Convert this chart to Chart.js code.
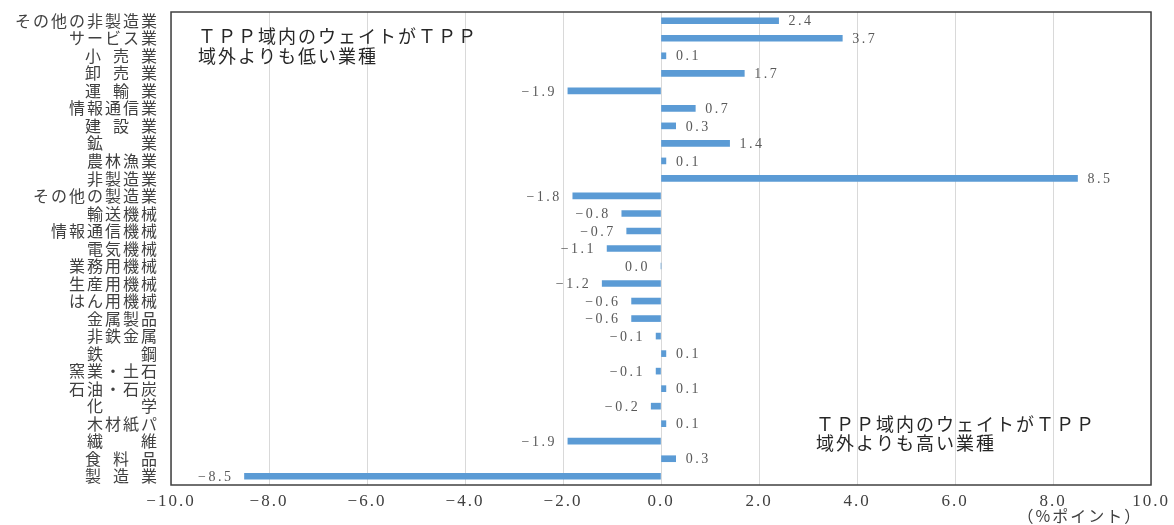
<!DOCTYPE html>
<html lang="ja">
<head>
<meta charset="utf-8">
<title>業種別ウェイト差</title>
<script src="https://cdn.jsdelivr.net/npm/chart.js@4.4.1/dist/chart.umd.min.js"></script>
<style>
  html, body { margin: 0; padding: 0; background: #ffffff; }
  canvas { display: block; }
</style>
</head>
<body>
<canvas id="chart" width="1174" height="525"></canvas>
<script>
// Industries, top to bottom
const categories = [
  'その他の非製造業', 'サービス業', '小\u2002売\u2002業', '卸\u2002売\u2002業', '運\u2002輸\u2002業',
  '情報通信業', '建\u2002設\u2002業', '鉱　　業', '農林漁業', '非製造業',
  'その他の製造業', '輸送機械', '情報通信機械', '電気機械', '業務用機械',
  '生産用機械', 'はん用機械', '金属製品', '非鉄金属', '鉄　　鋼',
  '窯業・土石', '石油・石炭', '化　　学', '木材紙パ', '繊　　維',
  '食\u2002料\u2002品', '製\u2002造\u2002業'
];

// Difference in weight, TPP members vs. non-members (% points)
const weightDiff = [
  2.4, 3.7, 0.1, 1.7, -1.9,
  0.7, 0.3, 1.4, 0.1, 8.5,
  -1.8, -0.8, -0.7, -1.1, 0.0,
  -1.2, -0.6, -0.6, -0.1, 0.1,
  -0.1, 0.1, -0.2, 0.1, -1.9,
  0.3, -8.5
];

const axisMin = -10;
const axisMax = 10;
const axisStep = 2;
const axisUnit = '（%ポイント）';

const noteLower = ['ＴＰＰ域内のウェイトがＴＰＰ', '域外よりも低い業種'];
const noteHigher = ['ＴＰＰ域内のウェイトがＴＰＰ', '域外よりも高い業種'];

const SERIF = "'Liberation Serif', 'DejaVu Serif', serif";
const JP = "'Noto Sans CJK JP', 'Noto Sans', sans-serif";

function fmt(v) {
  return v.toFixed(1).replace('-', '−');
}

// spacing between glyphs, like the wide Japanese-style text
const spacingPlugin = {
  id: 'spacing',
  beforeDraw(chart) {
    chart.ctx.letterSpacing = '2px';
  }
};

// dark frame around the plot area
const framePlugin = {
  id: 'frame',
  afterDraw(chart) {
    const { ctx, chartArea: a } = chart;
    ctx.save();
    ctx.strokeStyle = '#404040';
    ctx.lineWidth = 1.5;
    ctx.strokeRect(a.left, a.top, a.right - a.left, a.bottom - a.top);
    ctx.restore();
  }
};

// value labels beside each bar
const valueLabelPlugin = {
  id: 'valueLabels',
  afterDatasetsDraw(chart) {
    const { ctx } = chart;
    const meta = chart.getDatasetMeta(0);
    ctx.save();
    ctx.letterSpacing = '2.5px';
    ctx.font = "14px " + SERIF;
    ctx.fillStyle = '#595959';
    ctx.textBaseline = 'middle';
    meta.data.forEach((bar, i) => {
      const v = weightDiff[i];
      if (v > 0) {
        ctx.textAlign = 'left';
        ctx.fillText(fmt(v), bar.x + 10, bar.y + 1);
      } else {
        ctx.textAlign = 'right';
        ctx.fillText(fmt(v), bar.x - 11, bar.y + 1);
      }
    });
    ctx.restore();
  }
};

// explanatory notes and the unit of the value axis
const notesPlugin = {
  id: 'notes',
  afterDraw(chart) {
    const { ctx, scales } = chart;
    ctx.save();
    ctx.letterSpacing = '2px';
    ctx.fillStyle = '#262626';
    ctx.textBaseline = 'middle';
    ctx.textAlign = 'left';
    ctx.font = "18px " + JP;
    ctx.fillText(noteLower[0], 198, 36);
    ctx.fillText(noteLower[1], 198, 56);
    ctx.fillText(noteHigher[0], 816, 424);
    ctx.fillText(noteHigher[1], 816, 443);
    ctx.font = "16px " + JP;
    ctx.fillStyle = '#404040';
    ctx.textAlign = 'center';
    ctx.fillText(axisUnit, scales.x.getPixelForValue(8.55), 516);
    ctx.restore();
  }
};

new Chart(document.getElementById('chart'), {
  type: 'bar',
  data: {
    labels: categories,
    datasets: [{
      data: weightDiff,
      backgroundColor: '#5B9BD5',
      borderWidth: 0,
      barThickness: 6
    }]
  },
  options: {
    indexAxis: 'y',
    responsive: false,
    animation: false,
    devicePixelRatio: 1,
    layout: { padding: { left: 0, top: 12, right: 23, bottom: 0 } },
    plugins: {
      legend: { display: false },
      tooltip: { enabled: false },
      title: { display: false }
    },
    scales: {
      x: {
        min: axisMin,
        max: axisMax,
        border: { display: false },
        grid: { color: '#d9d9d9', lineWidth: 1, drawTicks: false },
        ticks: {
          stepSize: axisStep,
          padding: 6,
          color: '#404040',
          font: { family: SERIF, size: 17 },
          callback: (v) => fmt(v)
        },
        afterFit: (s) => {
          s.height = 40;
          s.paddingLeft = 0;
          s.paddingRight = 0;
        }
      },
      y: {
        border: { display: false },
        grid: { display: false, drawTicks: false },
        ticks: {
          autoSkip: false,
          padding: 12,
          color: '#404040',
          font: { family: JP, size: 16 }
        },
        afterFit: (s) => {
          s.width = 171;
          s.paddingTop = 0;
          s.paddingBottom = 0;
        }
      }
    }
  },
  plugins: [spacingPlugin, valueLabelPlugin, framePlugin, notesPlugin]
});
</script>
</body>
</html>
